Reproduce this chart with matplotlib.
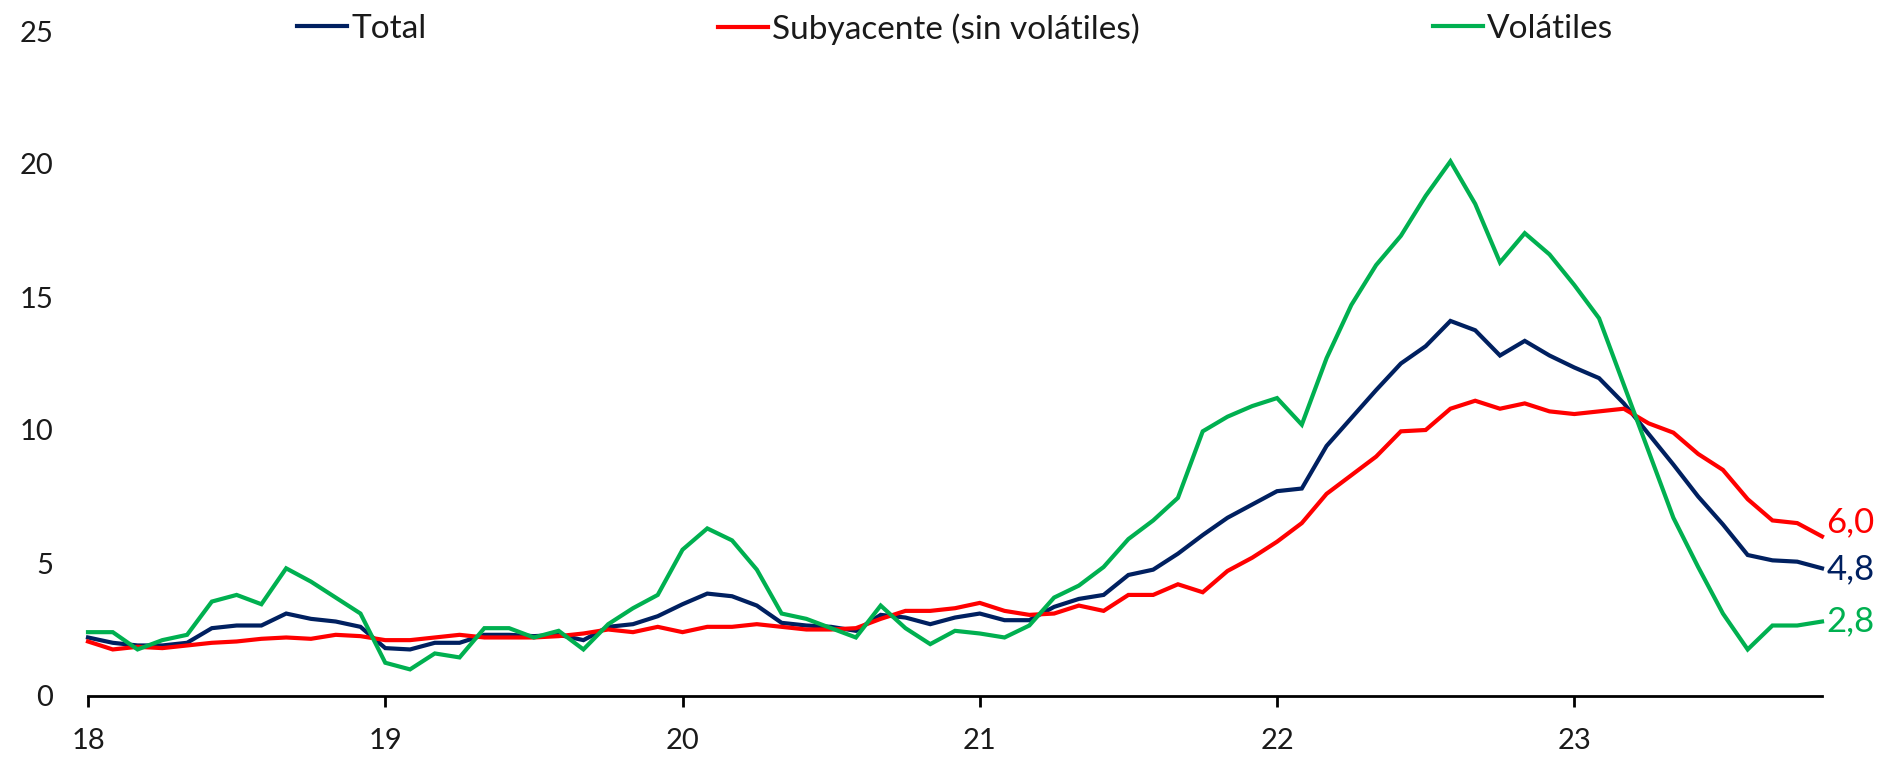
import numpy as np
import matplotlib
matplotlib.use("Agg")
import matplotlib.pyplot as plt
from matplotlib.lines import Line2D

plt.rcParams['font.family'] = ['Lato', 'DejaVu Sans']

# ============================================================
# DATA (monthly, Jan 2018 - Nov 2023, % y/y)
# ============================================================
year_labels = ["18", "19", "20", "21", "22", "23"]

total = [2.2, 2.0, 1.9, 1.9, 2.0, 2.55, 2.65, 2.65, 3.1, 2.9, 2.8, 2.6,
         1.8, 1.75, 2.0, 2.0, 2.3, 2.3, 2.25, 2.3, 2.1, 2.6, 2.7, 3.0,
         3.45, 3.85, 3.75, 3.4, 2.75, 2.65, 2.6, 2.45, 3.05, 2.95, 2.7, 2.95,
         3.1, 2.85, 2.85, 3.35, 3.65, 3.8, 4.55, 4.75, 5.35, 6.05, 6.7, 7.2,
         7.7, 7.8, 9.4, 10.45, 11.5, 12.5, 13.15, 14.1, 13.75, 12.8, 13.35, 12.8,
         12.35, 11.95, 11.0, 9.85, 8.7, 7.5, 6.45, 5.3, 5.1, 5.05, 4.8]

subyacente = [2.05, 1.75, 1.85, 1.8, 1.9, 2.0, 2.05, 2.15, 2.2, 2.15, 2.3, 2.25,
              2.1, 2.1, 2.2, 2.3, 2.2, 2.2, 2.2, 2.25, 2.35, 2.5, 2.4, 2.6,
              2.4, 2.6, 2.6, 2.7, 2.6, 2.5, 2.5, 2.55, 2.9, 3.2, 3.2, 3.3,
              3.5, 3.2, 3.05, 3.1, 3.4, 3.2, 3.8, 3.8, 4.2, 3.9, 4.7, 5.2,
              5.8, 6.5, 7.6, 8.3, 9.0, 9.95, 10.0, 10.8, 11.1, 10.8, 11.0, 10.7,
              10.6, 10.7, 10.8, 10.25, 9.9, 9.1, 8.5, 7.4, 6.6, 6.5, 6.0]

volatiles = [2.4, 2.4, 1.75, 2.1, 2.3, 3.55, 3.8, 3.45, 4.8, 4.3, 3.7, 3.1,
             1.25, 1.0, 1.6, 1.45, 2.55, 2.55, 2.2, 2.45, 1.75, 2.7, 3.3, 3.8,
             5.5, 6.3, 5.85, 4.75, 3.1, 2.9, 2.55, 2.2, 3.4, 2.55, 1.95, 2.45,
             2.35, 2.2, 2.65, 3.7, 4.15, 4.85, 5.9, 6.6, 7.45, 9.95, 10.5, 10.9,
             11.2, 10.2, 12.7, 14.7, 16.2, 17.3, 18.8, 20.1, 18.5, 16.3, 17.4, 16.6,
             15.45, 14.2, 11.7, 9.2, 6.7, 4.85, 3.1, 1.75, 2.65, 2.65, 2.8]

names = ["Total", "Subyacente (sin volátiles)", "Volátiles"]
colors = ["#002060", "#FF0000", "#00B050"]

# ============================================================
# PLOTTING
# ============================================================
W, H = 1877, 760
fig = plt.figure(figsize=(W / 100, H / 100), dpi=100)
ax = fig.add_axes([88 / W, 64 / H, (1822 - 88) / W, (696 - 31) / H])

x = np.arange(len(total))
series = [total, subyacente, volatiles]
for vals, name, c in zip(series, names, colors):
    ax.plot(x, vals, color=c, lw=3, label=name, clip_on=False,
            solid_joinstyle="miter")

# end labels
label_dy = [-1, 10, 0]
for i in [1, 0, 2]:
    v = series[i][-1]
    ax.annotate(f"{v:.1f}".replace(".", ","), xy=(x[-1], v),
                xytext=(3, label_dy[i]), textcoords="offset points",
                ha="left", va="center", color=colors[i], fontsize=25)

ax.set_xlim(0, len(total) - 1)
ax.set_ylim(0, 25)
ax.set_yticks(np.arange(0, 26, 5))
ax.set_xticks(np.arange(0, len(total), 12))
ax.set_xticklabels(year_labels)

for s in ["top", "right", "left"]:
    ax.spines[s].set_visible(False)
ax.spines["bottom"].set_linewidth(2)
ax.spines["bottom"].set_color("black")
ax.tick_params(axis="y", length=0, pad=25, labelsize=21, labelcolor="#1a1a1a")
ax.tick_params(axis="x", direction="out", length=8, width=2, pad=15,
               labelsize=21, labelcolor="#1a1a1a")

# legend entries spread across the top
leg_x = [297, 718, 1433]
for name, c, lx in zip(names, colors, leg_x):
    h = Line2D([], [], color=c, lw=3)
    leg = fig.legend([h], [name], loc="center left",
                     bbox_to_anchor=(lx / W, 1 - 29 / H), frameon=False,
                     fontsize=24, handlelength=1.5, handletextpad=0.12,
                     borderpad=0, borderaxespad=0)
    for t in leg.get_texts():
        t.set_color("#1a1a1a")

plt.savefig("out.png", dpi=100)
